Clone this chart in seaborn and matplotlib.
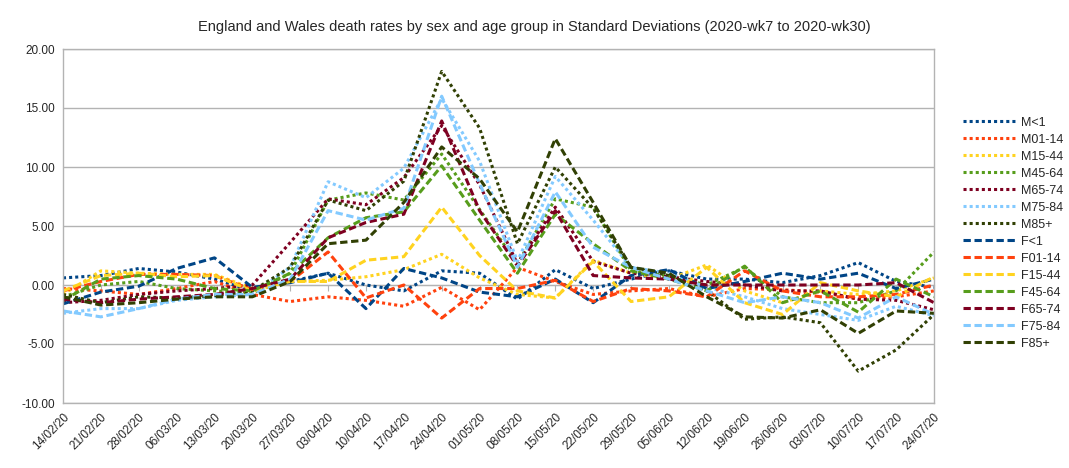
import pandas as pd
import matplotlib
matplotlib.use('Agg')
import matplotlib.pyplot as plt
import seaborn as sns

weeks = ['14/02/20', '21/02/20', '28/02/20', '06/03/20', '13/03/20', '20/03/20',
         '27/03/20', '03/04/20', '10/04/20', '17/04/20', '24/04/20', '01/05/20',
         '08/05/20', '15/05/20', '22/05/20', '29/05/20', '05/06/20', '12/06/20',
         '19/06/20', '26/06/20', '03/07/20', '10/07/20', '17/07/20', '24/07/20']

m_lt1 = [0.6, 0.8, 1.4, 1.1, 0.5, -0.5, 0.3, 1.0, 0.0, -0.5, 1.2, 1.0,
         -1.2, 1.3, -0.3, 0.5, 1.2, 0.5, 0.5, 0.2, 0.8, 1.9, 0.3, -0.2]
m01_14 = [-0.3, -0.5, -0.8, -0.3, 0.3, -0.8, -1.4, -1.0, -1.3, -1.8, -0.2, -2.1,
          1.5, 0.3, -0.8, -0.5, -0.3, -1.0, -0.3, -0.4, -0.6, -1.2, -1.0, -0.5]
m15_44 = [-0.8, 1.2, 1.0, 0.9, 0.9, -0.3, 0.3, 0.4, 0.7, 1.3, 2.6, 0.6,
          -0.8, -1.1, 2.1, 1.0, 0.5, 1.7, -0.5, -1.5, -0.5, -0.8, -0.5, 0.6]
m45_64 = [-1.0, 0.0, 0.3, -0.3, -0.5, -0.7, 1.0, 7.2, 7.8, 7.2, 11.1, 6.4,
          1.8, 7.3, 6.6, 1.2, 0.8, 0.0, 1.5, -1.0, -1.5, -1.5, -0.5, 2.8]
m65_74 = [-1.5, -1.3, -0.8, -0.5, -0.3, 0.0, 3.6, 7.3, 6.8, 9.1, 13.5, 8.5,
          1.8, 6.6, 2.0, 1.0, 0.7, 0.3, 0.0, -0.5, -0.5, -1.2, -1.3, -2.1]
m75_84 = [-2.4, -2.0, -2.0, -1.3, -1.0, -0.8, 1.5, 8.75, 7.4, 9.9, 15.8, 10.5,
          2.0, 9.2, 5.5, 1.5, 1.0, -0.2, -1.0, -2.0, -2.5, -3.0, -1.8, -2.6]
m85 = [-0.8, -1.5, -1.0, -1.1, -0.9, -0.5, 1.5, 7.2, 6.3, 8.8, 18.1, 13.3,
       3.5, 10.0, 6.5, 1.5, 0.8, -0.5, -2.9, -2.7, -3.2, -7.3, -5.5, -2.5]
f_lt1 = [-1.6, -0.6, -0.1, 1.4, 2.3, -0.2, 0.2, 1.0, -2.0, 1.4, 0.6, -0.6,
         -1.0, 0.5, -1.5, 0.8, 1.3, -0.3, 0.3, 1.0, 0.5, 1.0, -0.3, 0.5]
f01_14 = [-0.5, 0.3, 0.9, 0.9, 0.8, -0.4, 0.3, 2.8, -1.1, 0.0, -2.8, -0.3,
          -0.3, 0.4, -1.4, -0.3, -0.5, -1.0, 1.2, -0.5, -1.0, -1.0, -0.8, 0.0]
f15_44 = [-0.5, 0.8, 1.0, 0.7, 0.8, -0.5, 0.3, 0.3, 2.1, 2.4, 6.6, 2.5,
          -0.5, -1.1, 2.0, -1.4, -1.0, 1.5, -1.5, -2.5, 0.2, -0.5, -1.0, 0.7]
f45_64 = [-1.3, 0.5, 0.8, 0.5, -0.3, -0.5, 1.0, 4.0, 5.7, 6.2, 10.1, 5.5,
          1.0, 6.0, 3.5, 1.2, 0.5, -0.5, 1.6, -1.5, -0.5, -2.3, 0.5, -1.0]
f65_74 = [-1.2, -1.5, -1.2, -1.0, -0.8, -0.3, 0.5, 4.0, 5.3, 6.0, 13.9, 6.3,
          1.6, 6.3, 0.8, 0.6, 0.5, 0.0, 0.0, 0.0, 0.0, 0.0, 0.2, -1.5]
f75_84 = [-2.2, -2.7, -2.0, -1.2, -0.8, -0.8, 0.5, 6.3, 5.5, 6.5, 16.0, 8.6,
          1.5, 7.9, 3.2, 1.5, 0.5, -0.5, -1.5, -1.0, -1.5, -2.8, -1.0, -2.5]
f85 = [-1.0, -1.7, -1.5, -1.2, -1.0, -1.0, 0.3, 3.5, 3.8, 7.0, 11.7, 9.0,
       4.5, 12.4, 7.0, 1.5, 1.0, -1.0, -2.7, -2.8, -2.1, -4.1, -2.2, -2.4]

names = ['M<1', 'M01-14', 'M15-44', 'M45-64', 'M65-74', 'M75-84', 'M85+',
         'F<1', 'F01-14', 'F15-44', 'F45-64', 'F65-74', 'F75-84', 'F85+']
series = [m_lt1, m01_14, m15_44, m45_64, m65_74, m75_84, m85,
          f_lt1, f01_14, f15_44, f45_64, f65_74, f75_84, f85]
base_colors = ['#004586', '#ff420e', '#ffd320', '#579d1c', '#7e0021', '#83caff', '#314004']

rows = []
for name, vals in zip(names, series):
    for i, v in enumerate(vals):
        rows.append({'week': i, 'value': v, 'series': name})
df = pd.DataFrame(rows)

palette = {n: base_colors[k % 7] for k, n in enumerate(names)}
dashes = {n: ((1, 1) if n.startswith('M') else (2.4, 1.2)) for n in names}

sns.set_style('white')
plt.rcParams['font.family'] = ['Liberation Sans', 'DejaVu Sans']

fig = plt.figure(figsize=(10.69, 4.68), dpi=100)
ax = fig.add_axes([63 / 1069, 1 - 403 / 468, (934 - 63) / 1069, (403 - 49) / 468])

sns.lineplot(data=df, x='week', y='value', hue='series', style='series',
             palette=palette, dashes=dashes, hue_order=names, style_order=names,
             linewidth=2.2, ax=ax, legend=True)

grid_col = '#b3b3b3'
ax.set_xlim(0, 23)
ax.set_ylim(-10, 20)
ax.set_yticks(range(-10, 21, 5))
ax.set_yticklabels([f'{v:.2f}' for v in range(-10, 21, 5)], fontsize=8.5)
ax.yaxis.grid(True, color=grid_col, linewidth=1)
ax.set_axisbelow(True)
ax.set_xticks(range(len(weeks)))
ax.set_xticklabels(weeks, rotation=45, ha='right', rotation_mode='anchor', fontsize=8.5)
ax.tick_params(axis='x', direction='out', length=4, color=grid_col, pad=2)
ax.tick_params(axis='y', length=0, pad=6)
ax.set_xlabel('')
ax.set_ylabel('')
for s in ax.spines.values():
    s.set_color(grid_col)
    s.set_linewidth(1)

# axis line through zero with its own ticks
sec = ax.secondary_xaxis(1 / 3)
sec.set_xticks(range(len(weeks)))
sec.set_xticklabels([])
sec.tick_params(direction='out', length=4, color=grid_col)
sec.spines['bottom'].set_color(grid_col)

handles, labels = ax.get_legend_handles_labels()
ax.legend(handles, labels, loc='center left', bbox_to_anchor=(1.02, 0.48),
          frameon=False, fontsize=9, handlelength=4.2, labelspacing=0.4,
          handletextpad=0.45)

fig.suptitle('England and Wales death rates by sex and age group in Standard Deviations (2020-wk7 to 2020-wk30)',
             y=1 - 27 / 468, va='center', fontsize=10.5)

fig.savefig('out.png', dpi=100)
